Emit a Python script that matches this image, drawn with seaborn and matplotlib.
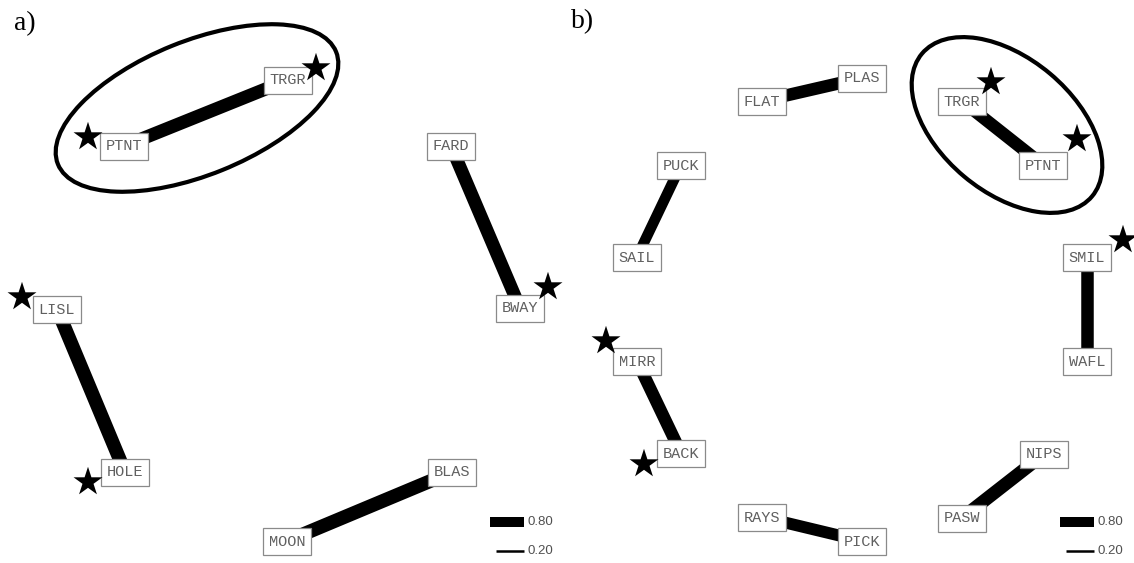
import matplotlib
matplotlib.use('Agg')
import matplotlib.pyplot as plt
from matplotlib.patches import Ellipse, Rectangle
import pandas as pd
import seaborn as sns

# node positions (pixel coordinates of the box centres, y grows downwards)
a_nodes = ['PTNT', 'TRGR', 'FARD', 'BWAY', 'LISL', 'HOLE', 'MOON', 'BLAS']
a_x = [124, 288, 451, 520, 57, 125, 287, 452]
a_y = [146, 80, 146, 308, 309, 472, 541, 472]
a_edges = [('PTNT', 'TRGR'), ('FARD', 'BWAY'), ('LISL', 'HOLE'), ('MOON', 'BLAS')]
a_weights = [1.05, 1.05, 1.1, 1.1]
a_starred = ['PTNT', 'TRGR', 'LISL', 'HOLE', 'BWAY']
a_star_x = [88, 316, 22, 88, 548]
a_star_y = [137, 68, 297, 482, 287]

b_nodes = ['FLAT', 'PLAS', 'PUCK', 'SAIL', 'TRGR', 'PTNT', 'SMIL', 'WAFL',
           'MIRR', 'BACK', 'RAYS', 'PICK', 'PASW', 'NIPS']
b_x = [762, 862, 681, 637, 962, 1043, 1087, 1087, 637, 681, 762, 862, 962, 1044]
b_y = [101, 78, 165, 257, 101, 165, 257, 361, 361, 453, 517, 541, 518, 454]
b_edges = [('FLAT', 'PLAS'), ('PUCK', 'SAIL'), ('TRGR', 'PTNT'), ('SMIL', 'WAFL'),
           ('MIRR', 'BACK'), ('RAYS', 'PICK'), ('PASW', 'NIPS')]
b_weights = [1.0, 0.85, 1.0, 1.0, 1.0, 0.95, 1.05]
b_starred = ['TRGR', 'PTNT', 'SMIL', 'MIRR', 'BACK']
b_star_x = [991, 1077, 1123, 606, 644]
b_star_y = [82, 139, 240, 341, 464]

legend_values = [0.80, 0.20]
legend_labels = ['0.80', '0.20']

sns.set_theme(style='white')
plt.rcParams['font.family'] = ['Liberation Mono', 'DejaVu Sans']

fig = plt.figure(figsize=(11.34, 5.63), dpi=100)
ax = fig.add_axes([0, 0, 1, 1])
ax.set_xlim(0, 1134)
ax.set_ylim(563, 0)
ax.axis('off')

PT_PER_UNIT = 9.0  # edge width scale


def draw_panel(names, xs, ys, edges, weights, stars_x, stars_y, leg_x):
    pos = dict(zip(names, zip(xs, ys)))
    for (u, v), w in zip(edges, weights):
        ax.plot([pos[u][0], pos[v][0]], [pos[u][1], pos[v][1]],
                color='black', lw=w * PT_PER_UNIT, solid_capstyle='butt', zorder=1)
    for n in names:
        x, y = pos[n]
        ax.add_patch(Rectangle((x - 24, y - 13.5), 48, 27, fc='white',
                               ec='#8a8a8a', lw=0.9, zorder=2))
        ax.text(x, y + 0.5, n, ha='center', va='center', fontsize=11,
                color='#606060', zorder=3)
    stars = pd.DataFrame({'x': stars_x, 'y': stars_y})
    sns.scatterplot(data=stars, x='x', y='y', marker='*', s=480, color='black',
                    edgecolor='none', ax=ax, zorder=4, legend=False)
    # width legend
    for val, lab, ly, x0 in zip(legend_values, legend_labels, [522, 551], [leg_x, leg_x + 6]):
        ax.plot([x0, leg_x + 34], [ly, ly], color='black', lw=val * PT_PER_UNIT,
                solid_capstyle='butt')
        ax.text(leg_x + 38, ly, lab, ha='left', va='center', fontsize=9.5,
                color='#505050', family=['Liberation Sans', 'DejaVu Sans'])


draw_panel(a_nodes, a_x, a_y, a_edges, a_weights, a_star_x, a_star_y, 490)
draw_panel(b_nodes, b_x, b_y, b_edges, b_weights, b_star_x, b_star_y, 1060)

# circled groups
ax.add_patch(Ellipse((197, 108), 300, 134, angle=-22, fill=False, ec='black', lw=3, zorder=5))
ax.add_patch(Ellipse((1007, 125), 222, 134, angle=40, fill=False, ec='black', lw=3, zorder=5))

ax.text(14, 24, 'a)', fontsize=20, family=['Liberation Serif', 'DejaVu Serif'],
        ha='left', va='center', color='black')
ax.text(571, 22, 'b)', fontsize=20, family=['Liberation Serif', 'DejaVu Serif'],
        ha='left', va='center', color='black')

fig.savefig('out.png', dpi=100)
